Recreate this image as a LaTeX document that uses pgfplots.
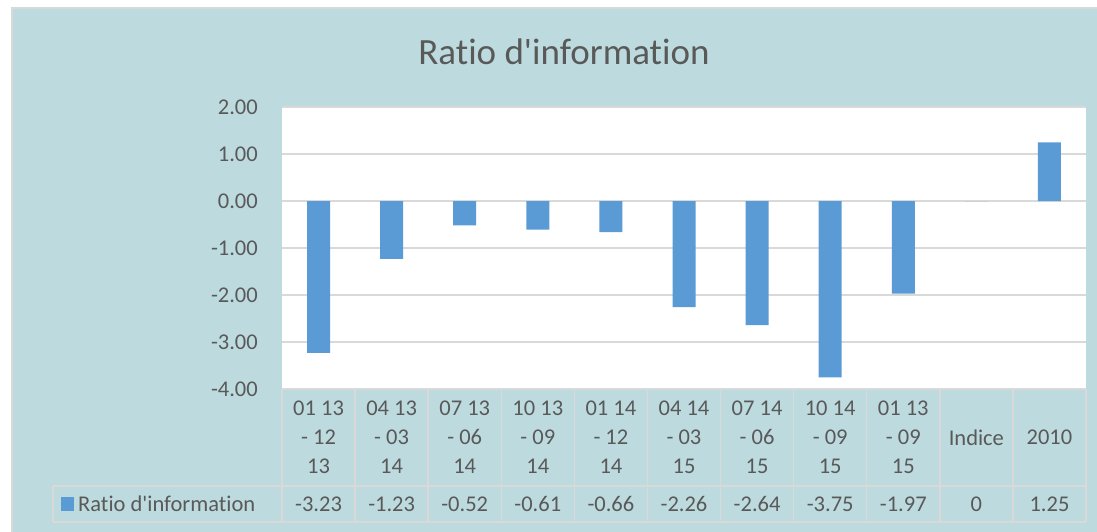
\documentclass[border=0pt]{standalone}
\usepackage{pgfplots}
\pgfplotsset{compat=1.18}
\usepackage{pgfplotstable}
\usepackage{fontspec}
\setmainfont{Carlito}[Ligatures={NoCommon}]
\definecolor{chartbg}{HTML}{BDDBDF}
\definecolor{gridgray}{HTML}{D9D9D9}
\definecolor{txt}{HTML}{595959}
\definecolor{barblue}{HTML}{5B9BD5}

% ratio d'information per period
\pgfplotstableread{
x v
0 -3.23
1 -1.23
2 -0.52
3 -0.61
4 -0.66
5 -2.26
6 -2.64
7 -3.75
8 -1.97
9 0
10 1.25
}\ratiodata

\newcommand{\tabfont}{\fontsize{22.5}{29}\selectfont}

\begin{document}
\begin{tikzpicture}[x=1pt,y=1pt]
\path[use as bounding box] (0,0) rectangle (1097,-532);
\fill[white] (0,0) rectangle (1097,-532);
\fill[chartbg, draw=gridgray, line width=2pt] (12,-8) rectangle (1120,-550);
\node[txt, font=\fontsize{37}{40}\selectfont] at (564,-52) {Ratio d\textquotesingle information};

\begin{axis}[
  at={(282pt,-389pt)}, anchor=south west,
  width=804pt, height=282pt, scale only axis,
  xmin=-0.5, xmax=10.5, ymin=-4, ymax=2,
  clip=false,
  axis background/.style={fill=white},
  axis line style={draw=none},
  major tick length=0pt,
  ytick={-4,-3,...,2},
  xtick={0,...,10},
  xticklabels={{01 13\\- 12\\13},{04 13\\- 03\\14},{07 13\\- 06\\14},{10 13\\- 09\\14},
    {01 14\\- 12\\14},{04 14\\- 03\\15},{07 14\\- 06\\15},{10 14\\- 09\\15},{01 13\\- 09\\15},
    {Indice},{2010}},
  ymajorgrids,
  grid style={gridgray, line width=1.5pt},
  yticklabel style={txt, font=\tabfont, inner sep=0pt, anchor=east, xshift=-24pt,
    /pgf/number format/.cd, fixed, fixed zerofill, precision=2, assume math mode=true},
  xticklabel style={txt, font=\tabfont, align=center, anchor=center, inner sep=0pt, yshift=-48.5pt},
]
\addplot[ybar, bar width=23pt, fill=barblue, draw=none] table[x=x, y=v]{\ratiodata};
\addplot[draw=none, mark=none, forget plot, nodes near coords, point meta=explicit symbolic,
  nodes near coords align=center,
  every node near coord/.append style={txt, font=\tabfont, anchor=center, inner sep=0pt, yshift=-115pt}]
  table[x=x, y expr=-4, meta=v]{\ratiodata};
\end{axis}

% data table grid
\foreach \i in {0,...,11}
  \draw[gridgray, line width=1.5pt] (282+\i*73.0909,-389) -- (282+\i*73.0909,-522);
\draw[gridgray, line width=1.5pt] (53,-486) -- (1086,-486);
\draw[gridgray, line width=1.5pt] (53,-522) -- (1086,-522);
\draw[gridgray, line width=1.5pt] (53,-486) -- (53,-522);
\fill[barblue] (61,-497) rectangle (74,-511);
\node[anchor=west, txt, font=\tabfont, inner sep=0pt] at (78,-504) {Ratio d\textquotesingle information};
\end{tikzpicture}
\end{document}
